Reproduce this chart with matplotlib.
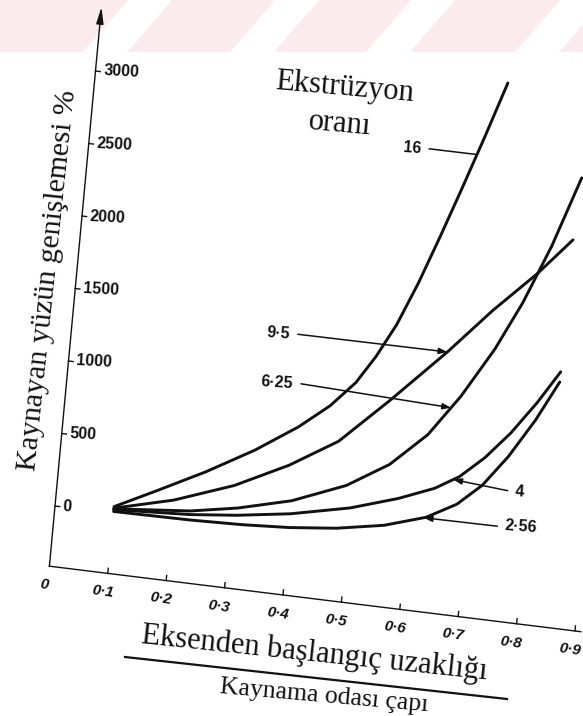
import numpy as np
import matplotlib
matplotlib.use("Agg")
import matplotlib.pyplot as plt
from matplotlib.transforms import Affine2D
from matplotlib.patches import Polygon

# ---- data: surface expansion (%) vs. start distance from axis / chamber diameter ----
ratio_labels = ["16", "9·5", "6·25", "4", "2·56"]

x_16 = [0.10, 0.17, 0.25, 0.33, 0.40, 0.45, 0.49, 0.52, 0.55, 0.58, 0.61, 0.64, 0.67, 0.70]
y_16 = [45, 190, 360, 550, 745, 915, 1095, 1290, 1525, 1825, 2165, 2520, 2885, 3265]

x_95 = [0.10, 0.20, 0.30, 0.39, 0.47, 0.55, 0.64, 0.71, 0.78, 0.835]
y_95 = [35, 140, 290, 475, 680, 1000, 1380, 1700, 1990, 2250]

x_625 = [0.10, 0.23, 0.31, 0.40, 0.49, 0.56, 0.62, 0.67, 0.72, 0.76, 0.80, 0.84]
y_625 = [30, 80, 140, 235, 385, 565, 800, 1090, 1440, 1780, 2190, 2680]

x_4 = [0.10, 0.23, 0.31, 0.40, 0.50, 0.58, 0.64, 0.68, 0.72, 0.76, 0.80, 0.835]
y_4 = [25, 55, 90, 145, 235, 340, 440, 540, 690, 880, 1110, 1340]

x_256 = [0.10, 0.23, 0.32, 0.40, 0.48, 0.56, 0.63, 0.68, 0.72, 0.76, 0.80, 0.835]
y_256 = [12, 18, 30, 50, 85, 145, 235, 350, 500, 720, 990, 1270]

x_ticks = [0.0, 0.1, 0.2, 0.3, 0.4, 0.5, 0.6, 0.7, 0.8, 0.9]
x_tick_labels = ["0", "0·1", "0·2", "0·3", "0·4", "0·5", "0·6", "0·7", "0·8", "0·9"]
y_ticks = [0, 500, 1000, 1500, 2000, 2500, 3000]
y_tick_labels = ["0", "500", "1000", "1500", "2000", "2500", "3000"]

# label leaders: (label, label x, level, arrow target x, arrow?)
leaders = [
    ("16", 0.565, 2750, 0.659, False),
    ("9·5", 0.372, 1375, 0.640, True),
    ("6·25", 0.385, 1040, 0.655, True),
    ("4", 0.776, 485, 0.670, True),
    ("2·56", 0.764, 234, 0.626, True),
]
curves = {"16": (x_16, y_16), "9·5": (x_95, y_95), "6·25": (x_625, y_625),
          "4": (x_4, y_4), "2·56": (x_256, y_256)}

W, H = 583, 716
fig = plt.figure(figsize=(W / 100, H / 100), dpi=100)
ax = fig.add_axes([0, 0, 1, 1])
ax.set_xlim(0, W)
ax.set_ylim(H, 0)
ax.axis("off")

# skewed chart frame: (ratio, expansion) -> page pixels
skew = Affine2D.from_values(584, 72, 0.0135, -0.145, 55, 506)
tr = skew + ax.transData

ink = "#111111"
serif = ["Liberation Serif", "DejaVu Serif"]
sans = ["Liberation Sans", "DejaVu Sans"]

# pink header band with diagonal white gaps
pink = "#fcebee"
ax.add_patch(Polygon([[0, 0], [W, 0], [W, 52], [0, 52]], closed=True,
                     facecolor=pink, edgecolor="none", zorder=0))
for left in [128, 275, 411, 560]:
    ax.add_patch(Polygon([[left, 0], [left + 44, 0], [left - 1, 52], [left - 45, 52]],
                         closed=True, facecolor="white", edgecolor="none", zorder=0))

# axes
y_floor = -415
ax.plot([0, 0], [y_floor, 3330], color=ink, lw=1.0, transform=tr, zorder=3)
ax.plot([0, 0.91], [y_floor, y_floor], color=ink, lw=1.0, transform=tr, zorder=3)
ax.annotate("", xy=(0, 3460), xytext=(0, 3300), xycoords=tr, textcoords=tr,
            arrowprops=dict(arrowstyle="-|>,head_length=1.0,head_width=0.22",
                            color=ink, lw=1.0), zorder=3)

for v, lab in zip(y_ticks, y_tick_labels):
    ax.plot([0, 0.008], [v, v], color=ink, lw=1.0, transform=tr)
    ax.text(0.013, v, lab, transform=tr, ha="left", va="center",
            fontsize=11.5, fontweight="bold", family=sans, color=ink, rotation=-3)

for xv, lab in zip(x_ticks, x_tick_labels):
    if xv > 0:
        ax.plot([xv, xv], [y_floor, y_floor + 35], color=ink, lw=1.0, transform=tr)
    ax.text(xv - 0.006, y_floor - 130, lab, transform=tr, ha="center", va="center",
            fontsize=11, fontweight="bold", fontstyle="italic", family=sans,
            color=ink, rotation=-8)

# curves
for name, (xs, ys) in curves.items():
    ax.plot(xs, ys, color=ink, lw=2.1, transform=tr, solid_capstyle="round",
            solid_joinstyle="round", zorder=4)

# leaders with ratio labels
for lab, lx, lv, tx, arrow in leaders:
    xs, ys = curves[lab]
    tv = float(np.interp(tx, xs, ys))
    if lx < tx:
        start = lx + 0.012
        ha = "right"
    else:
        start = lx - 0.012
        ha = "left"
    style = "-|>,head_length=0.5,head_width=0.18" if arrow else "-"
    ax.annotate("", xy=(tx, tv), xytext=(start, lv), xycoords=tr, textcoords=tr,
                arrowprops=dict(arrowstyle=style, color=ink, lw=1.1,
                                shrinkA=0, shrinkB=0), zorder=5)
    ax.text(lx, lv, lab, transform=tr, ha=ha, va="center", fontsize=11.5,
            fontweight="bold", family=sans, color=ink, rotation=-4)

# legend heading
ax.text(344, 88, "Ekstrüzyon", ha="center", va="center", fontsize=22,
        family=serif, color=ink, rotation=-5)
ax.text(340, 124, "oranı", ha="center", va="center", fontsize=22,
        family=serif, color=ink, rotation=-5)

# axis titles
ax.text(48, 280, "Kaynayan yüzün genişlemesi %", ha="center", va="center",
        fontsize=21.5, family=serif, color=ink, rotation=84)
ax.text(314, 653, "Eksenden başlangıç uzaklığı", ha="center", va="center",
        fontsize=22, family=serif, color=ink, rotation=-6)
ax.plot([125, 507], [657, 699], color=ink, lw=1.6)
ax.text(324, 696, "Kaynama odası çapı", ha="center", va="center",
        fontsize=18.5, family=serif, color=ink, rotation=-5)

fig.savefig("out.png", dpi=100, facecolor="white")
